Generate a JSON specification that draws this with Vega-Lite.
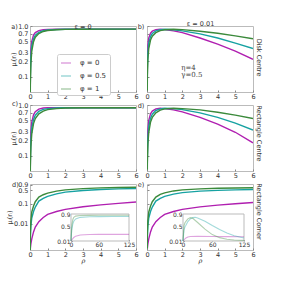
{
"$schema":"https://vega.github.io/schema/vega-lite/v6.json",
"padding":{"left":6,"top":19,"right":5,"bottom":5},
"config":{"font":"DejaVu Sans","view":{"stroke":"#bbbbbb"},
"axis":{"labelFontSize":6.5,"labelColor":"#333","tickColor":"#888","tickSize":-2,"domain":false,"grid":false,"labelFlush":false,"labelOverlap":false,"titleFontSize":6.5,"titleFontWeight":"normal","titleColor":"#333","titlePadding":1},
"axisX":{"labelPadding":3,"labelOverlap":false},
"axisY":{"labelPadding":4},
"title":{"fontSize":6.5,"fontWeight":"normal","color":"#333"},
"legend":{"orient":"none","legendX":27,"legendY":28,"symbolType":"stroke","strokeColor":"#cccccc","fillColor":"white","padding":3,"labelFontSize":7,"labelColor":"#333","rowPadding":4,"symbolSize":100,"symbolStrokeWidth":1.5,"labelOffset":8,"cornerRadius":2}},
"datasets":{
"main":[
{"p":"a","f":"φ = 0","x":0,"y":0.001},{"p":"a","f":"φ = 0","x":0.02,"y":0.15},{"p":"a","f":"φ = 0","x":0.05,"y":0.35},{"p":"a","f":"φ = 0","x":0.1,"y":0.5},{"p":"a","f":"φ = 0","x":0.2,"y":0.66},{"p":"a","f":"φ = 0","x":0.3,"y":0.74},{"p":"a","f":"φ = 0","x":0.5,"y":0.81},{"p":"a","f":"φ = 0","x":0.75,"y":0.845},{"p":"a","f":"φ = 0","x":1,"y":0.855},{"p":"a","f":"φ = 0","x":1.5,"y":0.862},{"p":"a","f":"φ = 0","x":2,"y":0.865},{"p":"a","f":"φ = 0","x":3,"y":0.866},{"p":"a","f":"φ = 0","x":4,"y":0.866},{"p":"a","f":"φ = 0","x":5,"y":0.866},{"p":"a","f":"φ = 0","x":6,"y":0.866},
{"p":"a","f":"φ = 0.5","x":0,"y":0.001},{"p":"a","f":"φ = 0.5","x":0.02,"y":0.1},{"p":"a","f":"φ = 0.5","x":0.05,"y":0.25},{"p":"a","f":"φ = 0.5","x":0.1,"y":0.4},{"p":"a","f":"φ = 0.5","x":0.2,"y":0.56},{"p":"a","f":"φ = 0.5","x":0.3,"y":0.66},{"p":"a","f":"φ = 0.5","x":0.5,"y":0.75},{"p":"a","f":"φ = 0.5","x":0.75,"y":0.81},{"p":"a","f":"φ = 0.5","x":1,"y":0.835},{"p":"a","f":"φ = 0.5","x":1.5,"y":0.855},{"p":"a","f":"φ = 0.5","x":2,"y":0.862},{"p":"a","f":"φ = 0.5","x":3,"y":0.866},{"p":"a","f":"φ = 0.5","x":4,"y":0.866},{"p":"a","f":"φ = 0.5","x":5,"y":0.866},{"p":"a","f":"φ = 0.5","x":6,"y":0.866},
{"p":"a","f":"φ = 1","x":0,"y":0.001},{"p":"a","f":"φ = 1","x":0.02,"y":0.07},{"p":"a","f":"φ = 1","x":0.05,"y":0.18},{"p":"a","f":"φ = 1","x":0.1,"y":0.32},{"p":"a","f":"φ = 1","x":0.2,"y":0.49},{"p":"a","f":"φ = 1","x":0.3,"y":0.6},{"p":"a","f":"φ = 1","x":0.5,"y":0.71},{"p":"a","f":"φ = 1","x":0.75,"y":0.78},{"p":"a","f":"φ = 1","x":1,"y":0.815},{"p":"a","f":"φ = 1","x":1.5,"y":0.845},{"p":"a","f":"φ = 1","x":2,"y":0.858},{"p":"a","f":"φ = 1","x":3,"y":0.864},{"p":"a","f":"φ = 1","x":4,"y":0.866},{"p":"a","f":"φ = 1","x":5,"y":0.866},{"p":"a","f":"φ = 1","x":6,"y":0.866},
{"p":"b","f":"φ = 0","x":0,"y":0.001},{"p":"b","f":"φ = 0","x":0.02,"y":0.2},{"p":"b","f":"φ = 0","x":0.05,"y":0.42},{"p":"b","f":"φ = 0","x":0.1,"y":0.58},{"p":"b","f":"φ = 0","x":0.2,"y":0.72},{"p":"b","f":"φ = 0","x":0.3,"y":0.79},{"p":"b","f":"φ = 0","x":0.5,"y":0.845},{"p":"b","f":"φ = 0","x":0.75,"y":0.86},{"p":"b","f":"φ = 0","x":1,"y":0.85},{"p":"b","f":"φ = 0","x":1.5,"y":0.8},{"p":"b","f":"φ = 0","x":2,"y":0.74},{"p":"b","f":"φ = 0","x":3,"y":0.58},{"p":"b","f":"φ = 0","x":4,"y":0.44},{"p":"b","f":"φ = 0","x":5,"y":0.32},{"p":"b","f":"φ = 0","x":6,"y":0.22},
{"p":"b","f":"φ = 0.5","x":0,"y":0.001},{"p":"b","f":"φ = 0.5","x":0.02,"y":0.14},{"p":"b","f":"φ = 0.5","x":0.05,"y":0.3},{"p":"b","f":"φ = 0.5","x":0.1,"y":0.46},{"p":"b","f":"φ = 0.5","x":0.2,"y":0.62},{"p":"b","f":"φ = 0.5","x":0.3,"y":0.71},{"p":"b","f":"φ = 0.5","x":0.5,"y":0.8},{"p":"b","f":"φ = 0.5","x":0.75,"y":0.845},{"p":"b","f":"φ = 0.5","x":1,"y":0.86},{"p":"b","f":"φ = 0.5","x":1.5,"y":0.845},{"p":"b","f":"φ = 0.5","x":2,"y":0.8},{"p":"b","f":"φ = 0.5","x":3,"y":0.7},{"p":"b","f":"φ = 0.5","x":4,"y":0.58},{"p":"b","f":"φ = 0.5","x":5,"y":0.46},{"p":"b","f":"φ = 0.5","x":6,"y":0.36},
{"p":"b","f":"φ = 1","x":0,"y":0.001},{"p":"b","f":"φ = 1","x":0.02,"y":0.1},{"p":"b","f":"φ = 1","x":0.05,"y":0.22},{"p":"b","f":"φ = 1","x":0.1,"y":0.36},{"p":"b","f":"φ = 1","x":0.2,"y":0.53},{"p":"b","f":"φ = 1","x":0.3,"y":0.63},{"p":"b","f":"φ = 1","x":0.5,"y":0.74},{"p":"b","f":"φ = 1","x":0.75,"y":0.81},{"p":"b","f":"φ = 1","x":1,"y":0.845},{"p":"b","f":"φ = 1","x":1.5,"y":0.86},{"p":"b","f":"φ = 1","x":2,"y":0.85},{"p":"b","f":"φ = 1","x":3,"y":0.79},{"p":"b","f":"φ = 1","x":4,"y":0.72},{"p":"b","f":"φ = 1","x":5,"y":0.64},{"p":"b","f":"φ = 1","x":6,"y":0.56},
{"p":"c","f":"φ = 0","x":0,"y":0.001},{"p":"c","f":"φ = 0","x":0.02,"y":0.12},{"p":"c","f":"φ = 0","x":0.05,"y":0.3},{"p":"c","f":"φ = 0","x":0.1,"y":0.46},{"p":"c","f":"φ = 0","x":0.2,"y":0.64},{"p":"c","f":"φ = 0","x":0.3,"y":0.74},{"p":"c","f":"φ = 0","x":0.5,"y":0.83},{"p":"c","f":"φ = 0","x":0.75,"y":0.87},{"p":"c","f":"φ = 0","x":1,"y":0.88},{"p":"c","f":"φ = 0","x":1.5,"y":0.885},{"p":"c","f":"φ = 0","x":2,"y":0.885},{"p":"c","f":"φ = 0","x":3,"y":0.885},{"p":"c","f":"φ = 0","x":4,"y":0.885},{"p":"c","f":"φ = 0","x":5,"y":0.885},{"p":"c","f":"φ = 0","x":6,"y":0.885},
{"p":"c","f":"φ = 0.5","x":0,"y":0.001},{"p":"c","f":"φ = 0.5","x":0.02,"y":0.08},{"p":"c","f":"φ = 0.5","x":0.05,"y":0.2},{"p":"c","f":"φ = 0.5","x":0.1,"y":0.35},{"p":"c","f":"φ = 0.5","x":0.2,"y":0.52},{"p":"c","f":"φ = 0.5","x":0.3,"y":0.63},{"p":"c","f":"φ = 0.5","x":0.5,"y":0.75},{"p":"c","f":"φ = 0.5","x":0.75,"y":0.82},{"p":"c","f":"φ = 0.5","x":1,"y":0.85},{"p":"c","f":"φ = 0.5","x":1.5,"y":0.87},{"p":"c","f":"φ = 0.5","x":2,"y":0.88},{"p":"c","f":"φ = 0.5","x":3,"y":0.885},{"p":"c","f":"φ = 0.5","x":4,"y":0.885},{"p":"c","f":"φ = 0.5","x":5,"y":0.885},{"p":"c","f":"φ = 0.5","x":6,"y":0.885},
{"p":"c","f":"φ = 1","x":0,"y":0.001},{"p":"c","f":"φ = 1","x":0.02,"y":0.06},{"p":"c","f":"φ = 1","x":0.05,"y":0.15},{"p":"c","f":"φ = 1","x":0.1,"y":0.27},{"p":"c","f":"φ = 1","x":0.2,"y":0.43},{"p":"c","f":"φ = 1","x":0.3,"y":0.54},{"p":"c","f":"φ = 1","x":0.5,"y":0.67},{"p":"c","f":"φ = 1","x":0.75,"y":0.76},{"p":"c","f":"φ = 1","x":1,"y":0.81},{"p":"c","f":"φ = 1","x":1.5,"y":0.85},{"p":"c","f":"φ = 1","x":2,"y":0.87},{"p":"c","f":"φ = 1","x":3,"y":0.88},{"p":"c","f":"φ = 1","x":4,"y":0.885},{"p":"c","f":"φ = 1","x":5,"y":0.885},{"p":"c","f":"φ = 1","x":6,"y":0.885},
{"p":"d","f":"φ = 0","x":0,"y":0.001},{"p":"d","f":"φ = 0","x":0.02,"y":0.14},{"p":"d","f":"φ = 0","x":0.05,"y":0.33},{"p":"d","f":"φ = 0","x":0.1,"y":0.5},{"p":"d","f":"φ = 0","x":0.2,"y":0.67},{"p":"d","f":"φ = 0","x":0.3,"y":0.76},{"p":"d","f":"φ = 0","x":0.5,"y":0.84},{"p":"d","f":"φ = 0","x":0.75,"y":0.86},{"p":"d","f":"φ = 0","x":1,"y":0.85},{"p":"d","f":"φ = 0","x":1.5,"y":0.8},{"p":"d","f":"φ = 0","x":2,"y":0.73},{"p":"d","f":"φ = 0","x":3,"y":0.57},{"p":"d","f":"φ = 0","x":4,"y":0.42},{"p":"d","f":"φ = 0","x":5,"y":0.29},{"p":"d","f":"φ = 0","x":6,"y":0.18},
{"p":"d","f":"φ = 0.5","x":0,"y":0.001},{"p":"d","f":"φ = 0.5","x":0.02,"y":0.09},{"p":"d","f":"φ = 0.5","x":0.05,"y":0.22},{"p":"d","f":"φ = 0.5","x":0.1,"y":0.38},{"p":"d","f":"φ = 0.5","x":0.2,"y":0.55},{"p":"d","f":"φ = 0.5","x":0.3,"y":0.66},{"p":"d","f":"φ = 0.5","x":0.5,"y":0.78},{"p":"d","f":"φ = 0.5","x":0.75,"y":0.84},{"p":"d","f":"φ = 0.5","x":1,"y":0.86},{"p":"d","f":"φ = 0.5","x":1.5,"y":0.85},{"p":"d","f":"φ = 0.5","x":2,"y":0.81},{"p":"d","f":"φ = 0.5","x":3,"y":0.7},{"p":"d","f":"φ = 0.5","x":4,"y":0.57},{"p":"d","f":"φ = 0.5","x":5,"y":0.44},{"p":"d","f":"φ = 0.5","x":6,"y":0.32},
{"p":"d","f":"φ = 1","x":0,"y":0.001},{"p":"d","f":"φ = 1","x":0.02,"y":0.07},{"p":"d","f":"φ = 1","x":0.05,"y":0.17},{"p":"d","f":"φ = 1","x":0.1,"y":0.29},{"p":"d","f":"φ = 1","x":0.2,"y":0.46},{"p":"d","f":"φ = 1","x":0.3,"y":0.57},{"p":"d","f":"φ = 1","x":0.5,"y":0.7},{"p":"d","f":"φ = 1","x":0.75,"y":0.79},{"p":"d","f":"φ = 1","x":1,"y":0.84},{"p":"d","f":"φ = 1","x":1.5,"y":0.86},{"p":"d","f":"φ = 1","x":2,"y":0.85},{"p":"d","f":"φ = 1","x":3,"y":0.8},{"p":"d","f":"φ = 1","x":4,"y":0.72},{"p":"d","f":"φ = 1","x":5,"y":0.63},{"p":"d","f":"φ = 1","x":6,"y":0.54},
{"p":"d2","f":"φ = 0","x":0,"y":0.00001},{"p":"d2","f":"φ = 0","x":0.02,"y":0.0006},{"p":"d2","f":"φ = 0","x":0.05,"y":0.001},{"p":"d2","f":"φ = 0","x":0.1,"y":0.0018},{"p":"d2","f":"φ = 0","x":0.2,"y":0.004},{"p":"d2","f":"φ = 0","x":0.3,"y":0.007},{"p":"d2","f":"φ = 0","x":0.5,"y":0.013},{"p":"d2","f":"φ = 0","x":0.75,"y":0.021},{"p":"d2","f":"φ = 0","x":1,"y":0.03},{"p":"d2","f":"φ = 0","x":1.5,"y":0.042},{"p":"d2","f":"φ = 0","x":2,"y":0.054},{"p":"d2","f":"φ = 0","x":3,"y":0.073},{"p":"d2","f":"φ = 0","x":4,"y":0.09},{"p":"d2","f":"φ = 0","x":5,"y":0.107},{"p":"d2","f":"φ = 0","x":6,"y":0.125},
{"p":"d2","f":"φ = 0.5","x":0,"y":0.00001},{"p":"d2","f":"φ = 0.5","x":0.02,"y":0.002},{"p":"d2","f":"φ = 0.5","x":0.05,"y":0.008},{"p":"d2","f":"φ = 0.5","x":0.1,"y":0.02},{"p":"d2","f":"φ = 0.5","x":0.2,"y":0.042},{"p":"d2","f":"φ = 0.5","x":0.3,"y":0.07},{"p":"d2","f":"φ = 0.5","x":0.5,"y":0.14},{"p":"d2","f":"φ = 0.5","x":0.75,"y":0.19},{"p":"d2","f":"φ = 0.5","x":1,"y":0.24},{"p":"d2","f":"φ = 0.5","x":1.5,"y":0.32},{"p":"d2","f":"φ = 0.5","x":2,"y":0.39},{"p":"d2","f":"φ = 0.5","x":3,"y":0.47},{"p":"d2","f":"φ = 0.5","x":4,"y":0.53},{"p":"d2","f":"φ = 0.5","x":5,"y":0.57},{"p":"d2","f":"φ = 0.5","x":6,"y":0.6},
{"p":"d2","f":"φ = 1","x":0,"y":0.00001},{"p":"d2","f":"φ = 1","x":0.02,"y":0.004},{"p":"d2","f":"φ = 1","x":0.05,"y":0.015},{"p":"d2","f":"φ = 1","x":0.1,"y":0.04},{"p":"d2","f":"φ = 1","x":0.2,"y":0.08},{"p":"d2","f":"φ = 1","x":0.3,"y":0.13},{"p":"d2","f":"φ = 1","x":0.5,"y":0.22},{"p":"d2","f":"φ = 1","x":0.75,"y":0.29},{"p":"d2","f":"φ = 1","x":1,"y":0.35},{"p":"d2","f":"φ = 1","x":1.5,"y":0.44},{"p":"d2","f":"φ = 1","x":2,"y":0.51},{"p":"d2","f":"φ = 1","x":3,"y":0.59},{"p":"d2","f":"φ = 1","x":4,"y":0.64},{"p":"d2","f":"φ = 1","x":5,"y":0.67},{"p":"d2","f":"φ = 1","x":6,"y":0.69},
{"p":"e","f":"φ = 0","x":0,"y":0.00001},{"p":"e","f":"φ = 0","x":0.02,"y":0.0006},{"p":"e","f":"φ = 0","x":0.05,"y":0.001},{"p":"e","f":"φ = 0","x":0.1,"y":0.0018},{"p":"e","f":"φ = 0","x":0.2,"y":0.004},{"p":"e","f":"φ = 0","x":0.3,"y":0.007},{"p":"e","f":"φ = 0","x":0.5,"y":0.013},{"p":"e","f":"φ = 0","x":0.75,"y":0.021},{"p":"e","f":"φ = 0","x":1,"y":0.03},{"p":"e","f":"φ = 0","x":1.5,"y":0.042},{"p":"e","f":"φ = 0","x":2,"y":0.054},{"p":"e","f":"φ = 0","x":3,"y":0.072},{"p":"e","f":"φ = 0","x":4,"y":0.088},{"p":"e","f":"φ = 0","x":5,"y":0.103},{"p":"e","f":"φ = 0","x":6,"y":0.118},
{"p":"e","f":"φ = 0.5","x":0,"y":0.00001},{"p":"e","f":"φ = 0.5","x":0.02,"y":0.002},{"p":"e","f":"φ = 0.5","x":0.05,"y":0.008},{"p":"e","f":"φ = 0.5","x":0.1,"y":0.02},{"p":"e","f":"φ = 0.5","x":0.2,"y":0.042},{"p":"e","f":"φ = 0.5","x":0.3,"y":0.07},{"p":"e","f":"φ = 0.5","x":0.5,"y":0.14},{"p":"e","f":"φ = 0.5","x":0.75,"y":0.19},{"p":"e","f":"φ = 0.5","x":1,"y":0.24},{"p":"e","f":"φ = 0.5","x":1.5,"y":0.31},{"p":"e","f":"φ = 0.5","x":2,"y":0.37},{"p":"e","f":"φ = 0.5","x":3,"y":0.44},{"p":"e","f":"φ = 0.5","x":4,"y":0.48},{"p":"e","f":"φ = 0.5","x":5,"y":0.51},{"p":"e","f":"φ = 0.5","x":6,"y":0.53},
{"p":"e","f":"φ = 1","x":0,"y":0.00001},{"p":"e","f":"φ = 1","x":0.02,"y":0.004},{"p":"e","f":"φ = 1","x":0.05,"y":0.015},{"p":"e","f":"φ = 1","x":0.1,"y":0.04},{"p":"e","f":"φ = 1","x":0.2,"y":0.08},{"p":"e","f":"φ = 1","x":0.3,"y":0.13},{"p":"e","f":"φ = 1","x":0.5,"y":0.22},{"p":"e","f":"φ = 1","x":0.75,"y":0.3},{"p":"e","f":"φ = 1","x":1,"y":0.36},{"p":"e","f":"φ = 1","x":1.5,"y":0.45},{"p":"e","f":"φ = 1","x":2,"y":0.51},{"p":"e","f":"φ = 1","x":3,"y":0.57},{"p":"e","f":"φ = 1","x":4,"y":0.61},{"p":"e","f":"φ = 1","x":5,"y":0.635},{"p":"e","f":"φ = 1","x":6,"y":0.65}
],
"inset":[
{"p":"d2","f":"φ = 0","r":0,"y":0.01},{"p":"d2","f":"φ = 0","r":1,"y":0.03},{"p":"d2","f":"φ = 0","r":2,"y":0.054},{"p":"d2","f":"φ = 0","r":4,"y":0.09},{"p":"d2","f":"φ = 0","r":6,"y":0.125},{"p":"d2","f":"φ = 0","r":10,"y":0.17},{"p":"d2","f":"φ = 0","r":20,"y":0.21},{"p":"d2","f":"φ = 0","r":40,"y":0.225},{"p":"d2","f":"φ = 0","r":60,"y":0.23},{"p":"d2","f":"φ = 0","r":90,"y":0.23},{"p":"d2","f":"φ = 0","r":125,"y":0.23},
{"p":"d2","f":"φ = 0.5","r":0,"y":0.01},{"p":"d2","f":"φ = 0.5","r":1,"y":0.25},{"p":"d2","f":"φ = 0.5","r":2,"y":0.4},{"p":"d2","f":"φ = 0.5","r":4,"y":0.58},{"p":"d2","f":"φ = 0.5","r":6,"y":0.66},{"p":"d2","f":"φ = 0.5","r":10,"y":0.74},{"p":"d2","f":"φ = 0.5","r":20,"y":0.79},{"p":"d2","f":"φ = 0.5","r":40,"y":0.81},{"p":"d2","f":"φ = 0.5","r":60,"y":0.815},{"p":"d2","f":"φ = 0.5","r":90,"y":0.82},{"p":"d2","f":"φ = 0.5","r":125,"y":0.82},
{"p":"d2","f":"φ = 1","r":0,"y":0.01},{"p":"d2","f":"φ = 1","r":1,"y":0.35},{"p":"d2","f":"φ = 1","r":2,"y":0.55},{"p":"d2","f":"φ = 1","r":4,"y":0.72},{"p":"d2","f":"φ = 1","r":6,"y":0.79},{"p":"d2","f":"φ = 1","r":10,"y":0.83},{"p":"d2","f":"φ = 1","r":20,"y":0.85},{"p":"d2","f":"φ = 1","r":40,"y":0.855},{"p":"d2","f":"φ = 1","r":60,"y":0.86},{"p":"d2","f":"φ = 1","r":90,"y":0.86},{"p":"d2","f":"φ = 1","r":125,"y":0.86},
{"p":"e","f":"φ = 0","r":0,"y":0.01},{"p":"e","f":"φ = 0","r":2,"y":0.05},{"p":"e","f":"φ = 0","r":4,"y":0.083},{"p":"e","f":"φ = 0","r":6,"y":0.11},{"p":"e","f":"φ = 0","r":10,"y":0.14},{"p":"e","f":"φ = 0","r":15,"y":0.16},{"p":"e","f":"φ = 0","r":30,"y":0.165},{"p":"e","f":"φ = 0","r":60,"y":0.16},{"p":"e","f":"φ = 0","r":90,"y":0.155},{"p":"e","f":"φ = 0","r":125,"y":0.15},
{"p":"e","f":"φ = 0.5","r":0,"y":0.01},{"p":"e","f":"φ = 0.5","r":2,"y":0.37},{"p":"e","f":"φ = 0.5","r":4,"y":0.48},{"p":"e","f":"φ = 0.5","r":6,"y":0.53},{"p":"e","f":"φ = 0.5","r":10,"y":0.65},{"p":"e","f":"φ = 0.5","r":15,"y":0.74},{"p":"e","f":"φ = 0.5","r":20,"y":0.78},{"p":"e","f":"φ = 0.5","r":25,"y":0.79},{"p":"e","f":"φ = 0.5","r":30,"y":0.77},{"p":"e","f":"φ = 0.5","r":45,"y":0.66},{"p":"e","f":"φ = 0.5","r":60,"y":0.52},{"p":"e","f":"φ = 0.5","r":75,"y":0.39},{"p":"e","f":"φ = 0.5","r":90,"y":0.27},{"p":"e","f":"φ = 0.5","r":105,"y":0.18},{"p":"e","f":"φ = 0.5","r":125,"y":0.11},
{"p":"e","f":"φ = 1","r":0,"y":0.01},{"p":"e","f":"φ = 1","r":2,"y":0.51},{"p":"e","f":"φ = 1","r":4,"y":0.61},{"p":"e","f":"φ = 1","r":6,"y":0.66},{"p":"e","f":"φ = 1","r":10,"y":0.74},{"p":"e","f":"φ = 1","r":15,"y":0.78},{"p":"e","f":"φ = 1","r":20,"y":0.76},{"p":"e","f":"φ = 1","r":30,"y":0.62},{"p":"e","f":"φ = 1","r":45,"y":0.4},{"p":"e","f":"φ = 1","r":60,"y":0.22},{"p":"e","f":"φ = 1","r":75,"y":0.12},{"p":"e","f":"φ = 1","r":90,"y":0.07},{"p":"e","f":"φ = 1","r":105,"y":0.045},{"p":"e","f":"φ = 1","r":125,"y":0.03}
],
"notes":[{"x":1.94,"y":0.15,"t":"η=4"},{"x":1.94,"y":0.11,"t":"γ=0.5"}]
},
"columns":2,
"bounds":"flush",
"spacing":{"row":13,"column":11},
"concat":[
{"width":106,"height":66,
"title":{"text":"ε = 0","anchor":"middle","frame":"group","dy":10,"offset":0,"baseline":"middle"},
"data":{"name":"main"},"transform":[{"filter":"datum.p == 'a'"}],
"mark":{"type":"line","strokeWidth":1.4,"clip":true},
"encoding":{
"x":{"field":"x","type":"quantitative","scale":{"domain":[0,6],"nice":false},"axis":{"values":[0,1,2,3,4,5,6],"labelOverlap":false,"title":"a)","titleX":-16,"titleY":-66,"titleAlign":"center","titleBaseline":"middle","titleAngle":0}},
"y":{"field":"y","type":"quantitative","scale":{"type":"log","domain":[0.05,1],"nice":false},"axis":{"values":[0.1,0.2,0.3,0.5,0.7,1],"format":".1f","title":"μᵢ(rᵢ)"}},
"color":{"field":"f","type":"nominal","scale":{"domain":["φ = 0","φ = 0.5","φ = 1"],"range":["#b01fb0","#17a2a2","#3b8a3b"]},"legend":{"title":null}}}},
{"width":106,"height":66,
"data":{"name":"main"},
"resolve":{"scale":{"x":"independent"}},
"layer":[
{"transform":[{"filter":"datum.p == 'b'"}],
"mark":{"type":"line","strokeWidth":1.4,"clip":true},
"encoding":{
"x":{"field":"x","type":"quantitative","scale":{"domain":[0,6],"nice":false},"axis":{"values":[0,1,2,3,4,5,6],"labelOverlap":false,"zindex":1,"title":"ε = 0.01","titleX":53,"titleY":-67,"titleAlign":"center","titleBaseline":"alphabetic","titleAngle":0}},
"y":{"field":"y","type":"quantitative","scale":{"type":"log","domain":[0.05,1],"nice":false},"axis":{"values":[0.1,0.2,0.3,0.5,0.7,1],"labels":true,"labelExpr":"''","title":"Disk Centre","titleAngle":90,"titleX":111,"titleY":31,"titleAlign":"center","titleBaseline":"middle"}},
"color":{"field":"f","type":"nominal","legend":{"title":null}}}},
{"data":{"name":"notes"},
"mark":{"type":"text","align":"left","baseline":"middle","font":"DejaVu Serif","fontSize":7,"color":"#444"},
"encoding":{"x":{"field":"x","type":"quantitative","scale":{"domain":[0,6],"nice":false},"axis":{"orient":"top","labels":false,"ticks":false,"domain":false,"title":"b)","titleX":-6.5,"titleY":0,"titleAlign":"center","titleBaseline":"middle","titleAngle":0}},"y":{"field":"y","type":"quantitative"},"text":{"field":"t"}}}
]},
{"width":106,"height":66,
"title":{"text":"c)","anchor":"start","frame":"group","dx":-18,"dy":8,"offset":0,"baseline":"middle"},
"data":{"name":"main"},"transform":[{"filter":"datum.p == 'c'"}],
"mark":{"type":"line","strokeWidth":1.4,"clip":true},
"encoding":{
"x":{"field":"x","type":"quantitative","scale":{"domain":[0,6],"nice":false},"axis":{"values":[0,1,2,3,4,5,6],"labelOverlap":false,"title":null}},
"y":{"field":"y","type":"quantitative","scale":{"type":"log","domain":[0.05,1],"nice":false},"axis":{"values":[0.1,0.2,0.3,0.5,0.7,1],"format":".1f","title":"μᵢ(rᵢ)"}},
"color":{"field":"f","type":"nominal","legend":{"title":null}}}},
{"width":106,"height":66,
"data":{"name":"main"},"transform":[{"filter":"datum.p == 'd'"}],
"mark":{"type":"line","strokeWidth":1.4,"clip":true},
"encoding":{
"x":{"field":"x","type":"quantitative","scale":{"domain":[0,6],"nice":false},"axis":{"values":[0,1,2,3,4,5,6],"labelOverlap":false,"zindex":1,"title":"d)","titleX":-6.5,"titleY":-66,"titleAlign":"center","titleBaseline":"middle","titleAngle":0}},
"y":{"field":"y","type":"quantitative","scale":{"type":"log","domain":[0.05,1],"nice":false},"axis":{"values":[0.1,0.2,0.3,0.5,0.7,1],"labels":true,"labelExpr":"''","title":"Rectangle Centre","titleAngle":90,"titleX":111,"titleY":28,"titleAlign":"center","titleBaseline":"middle"}},
"color":{"field":"f","type":"nominal","legend":{"title":null}}}},
{"width":106,"height":66,
"title":{"text":"d)","anchor":"start","frame":"group","dx":-18,"dy":10,"offset":0,"baseline":"middle"},
"resolve":{"scale":{"x":"independent","y":"independent"}},
"layer":[
{"data":{"name":"main"},"transform":[{"filter":"datum.p == 'd2'"}],
"mark":{"type":"line","strokeWidth":1.4,"clip":true},
"encoding":{
"x":{"field":"x","type":"quantitative","scale":{"domain":[0,6],"nice":false},"axis":{"values":[0,1,2,3,4,5,6],"labelOverlap":false,"title":"ρ","titleFont":"DejaVu Serif","titleFontStyle":"italic","titlePadding":0}},
"y":{"field":"y","type":"quantitative","scale":{"type":"log","domain":[0.0005,1],"nice":false},"axis":{"values":[0.01,0.1,0.5,0.9],"labelExpr":"datum.value < 0.05 ? '0.01' : format(datum.value, '.1f')","title":"μᵢ(rᵢ)"}},
"color":{"field":"f","type":"nominal","legend":{"title":null}}}},
{"data":{"values":[{}]},
"mark":{"type":"rect","fill":"white","stroke":"#bbbbbb","strokeWidth":1},
"encoding":{
"x":{"datum":0,"type":"quantitative","scale":{"domain":[0,125],"range":[41,99],"nice":false},"axis":null},
"x2":{"datum":125},
"y":{"datum":0.01,"type":"quantitative","scale":{"domain":[0.01,0.9],"range":[57,30],"nice":false,"zero":false},"axis":null},
"y2":{"datum":0.9}}},
{"data":{"name":"inset"},"transform":[{"filter":"datum.p == 'd2'"}],
"mark":{"type":"line","strokeWidth":1.1,"opacity":0.4},
"encoding":{
"x":{"field":"r","type":"quantitative","scale":{"domain":[0,125],"range":[41,99],"nice":false},"axis":{"orient":"bottom","offset":-9,"values":[0,60,125],"labelOverlap":false,"title":null,"labelFontSize":6,"tickSize":-1.5,"labelPadding":2}},
"y":{"field":"y","type":"quantitative","scale":{"domain":[0.01,0.9],"range":[57,30],"nice":false,"zero":false},"axis":{"orient":"left","offset":-41,"values":[0.01,0.5,0.9],"labelExpr":"datum.value < 0.05 ? '0.01' : format(datum.value, '.1f')","title":null,"labelFontSize":6,"tickSize":-1.5,"labelPadding":2.5}},
"color":{"field":"f","type":"nominal","legend":{"title":null}}}}
]},
{"width":106,"height":66,
"resolve":{"scale":{"x":"independent","y":"independent"}},
"layer":[
{"data":{"name":"main"},"transform":[{"filter":"datum.p == 'e'"}],
"mark":{"type":"line","strokeWidth":1.4,"clip":true},
"encoding":{
"x":{"field":"x","type":"quantitative","scale":{"domain":[0,6],"nice":false},"axis":{"values":[0,1,2,3,4,5,6],"labelOverlap":false,"zindex":1,"title":"ρ","titleFont":"DejaVu Serif","titleFontStyle":"italic","titlePadding":0}},
"y":{"field":"y","type":"quantitative","scale":{"type":"log","domain":[0.0005,1],"nice":false},"axis":{"values":[0.01,0.1,0.5,0.9],"labels":true,"labelExpr":"''","title":"Rectangle Corner","titleAngle":90,"titleX":111,"titleY":27,"titleAlign":"center","titleBaseline":"middle"}},
"color":{"field":"f","type":"nominal","legend":{"title":null}}}},
{"data":{"values":[{}]},
"mark":{"type":"rect","fill":"white","stroke":"#bbbbbb","strokeWidth":1},
"encoding":{
"x":{"datum":0,"type":"quantitative","scale":{"domain":[0,125],"range":[36,97],"nice":false},"axis":null},
"x2":{"datum":125},
"y":{"datum":0.01,"type":"quantitative","scale":{"domain":[0.01,0.9],"range":[57,30],"nice":false,"zero":false},"axis":{"orient":"left","labels":false,"ticks":false,"domain":false,"title":"e)","titleAngle":0,"titleX":-6.5,"titleY":0,"titleAlign":"center","titleBaseline":"middle"}},
"y2":{"datum":0.9}}},
{"data":{"name":"inset"},"transform":[{"filter":"datum.p == 'e'"}],
"mark":{"type":"line","strokeWidth":1.1,"opacity":0.4},
"encoding":{
"x":{"field":"r","type":"quantitative","scale":{"domain":[0,125],"range":[36,97],"nice":false},"axis":{"orient":"bottom","offset":-9,"values":[0,60,125],"labelOverlap":false,"title":null,"labelFontSize":6,"tickSize":-1.5,"labelPadding":2}},
"y":{"field":"y","type":"quantitative","scale":{"domain":[0.01,0.9],"range":[57,30],"nice":false,"zero":false},"axis":{"orient":"left","offset":-36,"values":[0.01,0.5,0.9],"labelExpr":"datum.value < 0.05 ? '0.01' : format(datum.value, '.1f')","title":null,"labelFontSize":6,"tickSize":-1.5,"labelPadding":2.5}},
"color":{"field":"f","type":"nominal","legend":{"title":null}}}}
]}
]
}
